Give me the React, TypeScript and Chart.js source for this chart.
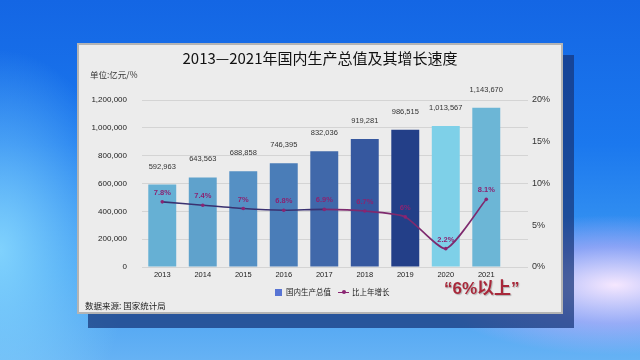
import React, { useEffect, useRef } from "react";
import { Chart, registerables } from "chart.js";

Chart.register(...registerables);

const years = ["2013", "2014", "2015", "2016", "2017", "2018", "2019", "2020", "2021"];
const gdp = [592963, 643563, 688858, 746395, 832036, 919281, 986515, 1013567, 1143670];
const growth = [7.8, 7.4, 7.0, 6.8, 6.9, 6.7, 6.0, 2.2, 8.1];
const growthLabels = ["7.8%", "7.4%", "7%", "6.8%", "6.9%", "6.7%", "6%", "2.2%", "8.1%"];
const barColors = ["#66b0d4", "#5fa2cc", "#5590c4", "#4a7db8", "#4068aa", "#36589f", "#233f88", "#7ed0e8", "#6cb6d6"];
const leftTicks = [0, 200000, 400000, 600000, 800000, 1000000, 1200000];
const rightTicks = [0, 5, 10, 15, 20];
const seriesNames = ["国内生产总值", "比上年增长"];
const titleText = "2013—2021年国内生产总值及其增长速度";
const unitText = "单位:亿元/%";
const sourceText = "数据来源: 国家统计局";
const quoteText = "“6%以上”";

const LATIN = "'Liberation Sans', Arial, 'Noto Sans CJK SC', sans-serif";
const CJK = "'Noto Sans CJK SC', 'Liberation Sans', sans-serif";

const fmt = (v: number) => v.toLocaleString("en-US");

const labelPlugin = {
  id: "valueLabels",
  afterDatasetsDraw(chart: any) {
    const ctx = chart.ctx;
    ctx.save();
    ctx.textAlign = "center";
    ctx.textBaseline = "middle";
    const barMeta = chart.getDatasetMeta(0);
    ctx.font = `7.5px ${LATIN}`;
    ctx.fillStyle = "#333333";
    barMeta.data.forEach((el: any, i: number) => {
      ctx.fillText(fmt(gdp[i]), el.x, el.y - 18);
    });
    const lineMeta = chart.getDatasetMeta(1);
    ctx.font = `bold 7.5px ${LATIN}`;
    ctx.fillStyle = "#8a2472";
    lineMeta.data.forEach((el: any, i: number) => {
      ctx.fillText(growthLabels[i], el.x, el.y - 9);
    });
    ctx.restore();
  },
};

export default function App() {
  const ref = useRef<HTMLCanvasElement | null>(null);

  useEffect(() => {
    document.body.style.margin = "0";
    const canvas = ref.current;
    if (!canvas) return;
    const chart = new Chart(canvas, {
      type: "bar",
      data: {
        datasets: [
          {
            type: "bar",
            label: seriesNames[0],
            data: gdp.map((v, i) => ({ x: i, y: v })),
            backgroundColor: barColors,
            borderWidth: 0,
            barPercentage: 0.69,
            categoryPercentage: 1,
            yAxisID: "y",
            order: 2,
          } as any,
          {
            type: "line",
            label: seriesNames[1],
            data: growth.map((v, i) => ({ x: i, y: v })),
            borderColor: "#7a2a6c",
            borderWidth: 1.6,
            backgroundColor: "#8a2472",
            pointRadius: 1.8,
            pointBackgroundColor: "#8a2472",
            pointBorderWidth: 0,
            tension: 0.2,
            yAxisID: "y1",
            order: 1,
            segment: {
              borderColor: (c: any) => (c.p0DataIndex < 4 ? "#3a3170" : "#7e2a6e"),
            },
          } as any,
        ],
      },
      options: {
        animation: false,
        responsive: false,
        maintainAspectRatio: false,
        devicePixelRatio: 1,
        layout: { padding: { top: 56, left: 0, right: 0, bottom: 0 } },
        plugins: {
          legend: { display: false },
          tooltip: { enabled: false },
          title: { display: false },
        },
        scales: {
          x: {
            type: "linear",
            offset: false,
            min: -0.5,
            max: 9.03,
            grid: { display: false, drawTicks: false },
            border: { display: false },
            afterBuildTicks: (s: any) => {
              s.ticks = years.map((_, i) => ({ value: i }));
            },
            afterFit: (s: any) => {
              s.height = 47;
            },
            ticks: {
              autoSkip: false,
              maxRotation: 0,
              padding: 3,
              color: "#222222",
              font: { size: 7.5, family: LATIN },
              callback: (v: any) => years[Number(v)] ?? "",
            },
          },
          y: {
            position: "left",
            min: 0,
            max: 1200000,
            afterBuildTicks: (s: any) => {
              s.ticks = leftTicks.map((v) => ({ value: v }));
            },
            afterFit: (s: any) => {
              s.width = 64;
            },
            grid: { color: "#d4d4d4", lineWidth: 1, drawTicks: false },
            border: { display: false },
            ticks: {
              padding: 15,
              color: "#222222",
              font: { size: 8, family: LATIN },
              callback: (v: any) => fmt(Number(v)),
            },
          },
          y1: {
            position: "right",
            min: 0,
            max: 20,
            afterBuildTicks: (s: any) => {
              s.ticks = rightTicks.map((v) => ({ value: v }));
            },
            afterFit: (s: any) => {
              s.width = 34;
            },
            grid: { display: false, drawTicks: false },
            border: { display: false },
            ticks: {
              padding: 4,
              color: "#333333",
              font: { size: 9, family: LATIN },
              callback: (v: any) => `${v}%`,
            },
          },
        },
      } as any,
      plugins: [labelPlugin],
    });
    return () => chart.destroy();
  }, []);

  const abs = (s: React.CSSProperties): React.CSSProperties => ({
    position: "absolute",
    whiteSpace: "nowrap",
    lineHeight: 1,
    ...s,
  });

  return (
    <div
      style={{
        position: "fixed",
        left: 0,
        top: 0,
        width: 640,
        height: 360,
        overflow: "hidden",
        background:
          "radial-gradient(ellipse 190px 70px at 615px 285px, rgba(255,235,255,0.95), rgba(205,175,250,0.55) 55%, rgba(160,150,250,0) 100%)," +
          "radial-gradient(ellipse 130px 200px at 0px 250px, rgba(140,220,255,0.85), rgba(90,180,250,0) 100%)," +
          "linear-gradient(180deg, #1466e4 0%, #1b78ee 40%, #3f9cf2 75%, #66b2f4 100%)",
      }}
    >
      <div style={abs({ left: 88, top: 55, width: 486, height: 273, background: "rgba(22,52,120,0.72)" })} />
      <div
        style={abs({
          left: 77,
          top: 43,
          width: 486,
          height: 271,
          boxSizing: "border-box",
          border: "2px solid #b4b4b4",
          background: "#ececec",
        })}
      />
      <canvas
        ref={ref}
        width={484}
        height={270}
        style={{ position: "absolute", left: 78, top: 44, width: 484, height: 270 }}
      />
      <div style={abs({ left: 0, width: 640, top: 50, textAlign: "center", fontFamily: CJK, fontSize: 15, color: "#111" })}>
        {titleText}
      </div>
      <div style={abs({ left: 90, top: 70, fontFamily: CJK, fontSize: 8.5, color: "#333" })}>{unitText}</div>
      <div style={abs({ left: 85, top: 301, fontFamily: CJK, fontSize: 8.5, color: "#222" })}>{sourceText}</div>
      <div
        style={abs({
          left: 444,
          top: 280,
          fontFamily: LATIN,
          fontWeight: "bold",
          fontSize: 17,
          color: "#a8283a",
          textShadow: "1px 1px 1px rgba(0,0,0,0.25)",
        })}
      >
        {quoteText}
      </div>
      <div style={abs({ left: 275, top: 288.5, width: 7, height: 7, background: "#5874d4" })} />
      <div style={abs({ left: 286, top: 288, fontFamily: CJK, fontSize: 7.5, color: "#222" })}>{seriesNames[0]}</div>
      <div style={abs({ left: 338, top: 291.5, width: 11, height: 1.5, background: "#8a2472" })} />
      <div style={abs({ left: 341.5, top: 290, width: 4, height: 4, borderRadius: 2, background: "#8a2472" })} />
      <div style={abs({ left: 352, top: 288, fontFamily: CJK, fontSize: 7.5, color: "#222" })}>{seriesNames[1]}</div>
    </div>
  );
}
